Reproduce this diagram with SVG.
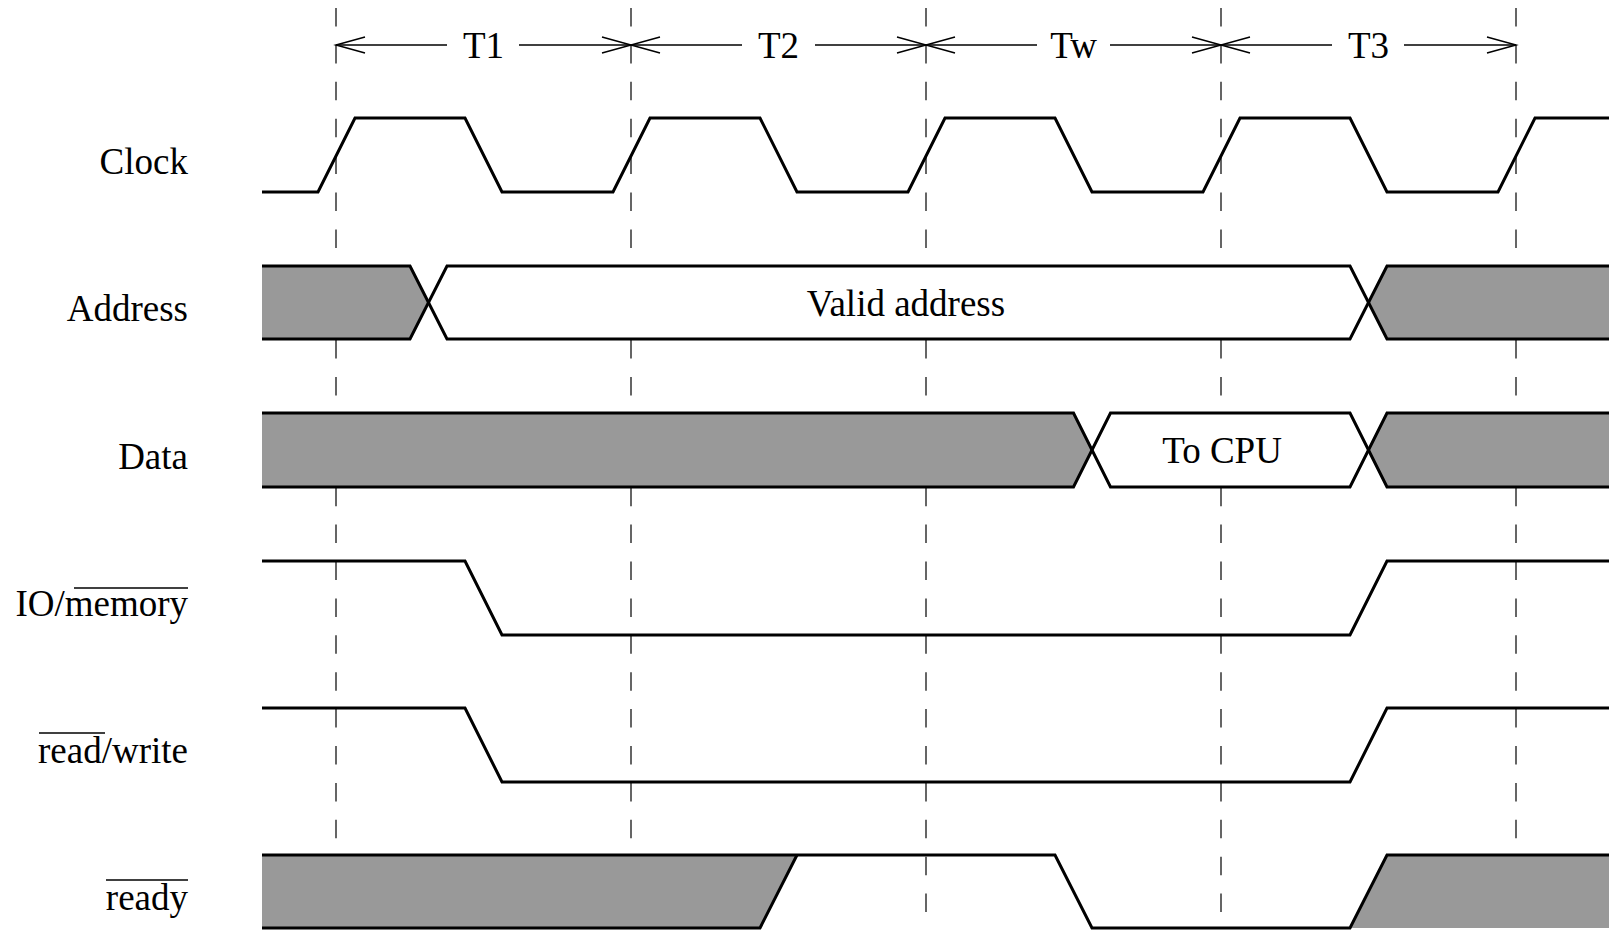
<svg xmlns="http://www.w3.org/2000/svg" width="1609" height="930" viewBox="0 0 1609 930">
<style>
text{font-family:"Liberation Serif","Times New Roman",serif;font-size:37px;fill:#000}
.lbl{text-anchor:end}
.mid{text-anchor:middle}
.ovl{stroke:#000;stroke-width:1.4}
.sig{fill:none;stroke:#000;stroke-width:3;stroke-linejoin:miter}
.grey{fill:#999;stroke:none}
.white{fill:#fff;stroke:none}
.dash{stroke:#333;stroke-width:1.5;stroke-dasharray:18.5 18.4;fill:none}
.dim{stroke:#000;stroke-width:1.5;fill:none}
</style>
<defs>
<marker id="arr" viewBox="-2 -2 34 20" refX="29" refY="8" markerWidth="34" markerHeight="20" markerUnits="userSpaceOnUse" orient="auto-start-reverse" overflow="visible">
<path d="M0,0 L29,8 L0,16" fill="none" stroke="#000" stroke-width="1.5"/>
</marker>
</defs>
<rect width="1609" height="930" fill="#fff"/>

<g id="gridlines">
<line class="dash" x1="336" y1="8" x2="336" y2="930"/>
<line class="dash" x1="631" y1="8" x2="631" y2="930"/>
<line class="dash" x1="926" y1="8" x2="926" y2="930"/>
<line class="dash" x1="1221" y1="8" x2="1221" y2="930"/>
<line class="dash" x1="1516" y1="8" x2="1516" y2="930"/>
</g>

<g id="connectors">
<line class="dim" x1="336" y1="45" x2="447" y2="45" marker-start="url(#arr)"/>
<line class="dim" x1="519" y1="45" x2="631" y2="45" marker-end="url(#arr)"/>
<line class="dim" x1="631" y1="45" x2="742" y2="45" marker-start="url(#arr)"/>
<line class="dim" x1="815" y1="45" x2="926" y2="45" marker-end="url(#arr)"/>
<line class="dim" x1="926" y1="45" x2="1037" y2="45" marker-start="url(#arr)"/>
<line class="dim" x1="1110" y1="45" x2="1221" y2="45" marker-end="url(#arr)"/>
<line class="dim" x1="1221" y1="45" x2="1332" y2="45" marker-start="url(#arr)"/>
<line class="dim" x1="1404" y1="45" x2="1516" y2="45" marker-end="url(#arr)"/>
</g>

<g id="periods">
<text class="mid" x="483.5" y="58">T1</text>
<text class="mid" x="778.5" y="58">T2</text>
<text class="mid" x="1073.5" y="58">Tw</text>
<text class="mid" x="1368.5" y="58">T3</text>
</g>

<g id="clock">
<text class="lbl" x="188" y="174">Clock</text>
<polyline class="sig" points="262,192 318,192 355,118 465,118 502,192 613,192 650,118 760,118 797,192 908,192 945,118 1055,118 1092,192 1203,192 1240,118 1350,118 1387,192 1498,192 1535,118 1609,118"/>
</g>

<g id="address">
<text class="lbl" x="188" y="321">Address</text>
<polygon class="grey" points="262,266 410,266 428.5,302.5 410,339 262,339"/>
<polygon class="white" points="428.5,302.5 447,266 1350,266 1368.5,302.5 1350,339 447,339"/>
<polygon class="grey" points="1368.5,302.5 1387,266 1609,266 1609,339 1387,339"/>
<polyline class="sig" points="262,266 410,266 447,339 1350,339 1387,266 1609,266"/>
<polyline class="sig" points="262,339 410,339 447,266 1350,266 1387,339 1609,339"/>
<text class="mid" x="906" y="316">Valid address</text>
</g>

<g id="data">
<text class="lbl" x="188" y="469">Data</text>
<polygon class="grey" points="262,413 1073.5,413 1092,450 1073.5,487 262,487"/>
<polygon class="white" points="1092,450 1110.5,413 1350,413 1368.5,450 1350,487 1110.5,487"/>
<polygon class="grey" points="1368.5,450 1387,413 1609,413 1609,487 1387,487"/>
<polyline class="sig" points="262,413 1073.5,413 1110.5,487 1350,487 1387,413 1609,413"/>
<polyline class="sig" points="262,487 1073.5,487 1110.5,413 1350,413 1387,487 1609,487"/>
<text class="mid" x="1222" y="463">To CPU</text>
</g>

<g id="io-memory">
<text class="lbl" x="188" y="616">IO/memory</text>
<line class="ovl" x1="74" y1="588" x2="188" y2="588"/>
<polyline class="sig" points="262,561 465,561 502,635 1350,635 1387,561 1609,561"/>
</g>

<g id="read-write">
<text class="lbl" x="188" y="763">read/write</text>
<line class="ovl" x1="39" y1="733" x2="105" y2="733"/>
<polyline class="sig" points="262,708 465,708 502,782 1350,782 1387,708 1609,708"/>
</g>

<g id="ready">
<text class="lbl" x="188" y="910">ready</text>
<line class="ovl" x1="106" y1="880" x2="188" y2="880"/>
<polygon class="grey" points="262,855 797,855 760,928 262,928"/>
<polygon class="grey" points="1387,855 1609,855 1609,928 1350,928"/>
<polyline class="sig" points="262,928 760,928 797,855"/>
<polyline class="sig" points="262,855 1055,855 1092,928 1350,928 1387,855 1609,855"/>
</g>
</svg>
